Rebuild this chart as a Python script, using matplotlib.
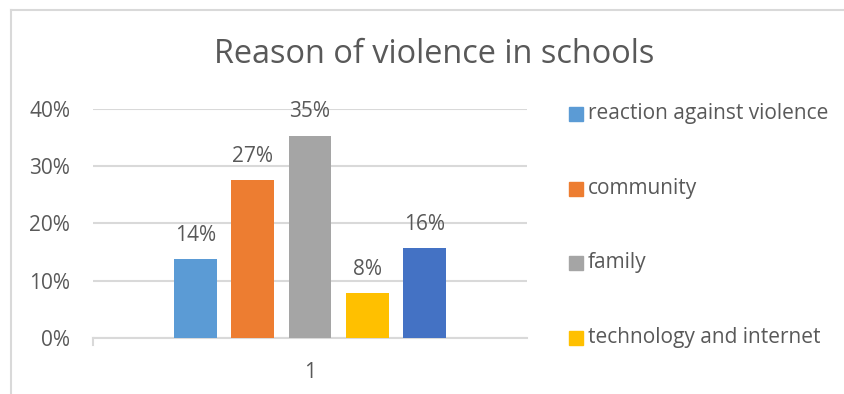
import matplotlib
matplotlib.use("Agg")
import matplotlib.pyplot as plt
from matplotlib.lines import Line2D

plt.rcParams['font.family'] = ['Open Sans', 'DejaVu Sans']

title = "Reason of violence in schools"
categories = ["1"]
series = ["reaction against violence", "community", "family",
          "technology and internet", "other"]
values = [0.137, 0.275, 0.353, 0.079, 0.157]
labels = ["14%", "27%", "35%", "8%", "16%"]
colors = ["#5B9BD5", "#ED7D31", "#A5A5A5", "#FFC000", "#4472C4"]
yticks = [0, 0.1, 0.2, 0.3, 0.4]
ytick_labels = ["0%", "10%", "20%", "30%", "40%"]

W, H = 845, 394
fig = plt.figure(figsize=(W / 100, H / 100), dpi=100)
txt = "#595959"
fs = 15

# chart frame (top & left visible)
fig.add_artist(Line2D([11 / W, 11 / W], [0, 1 - 10 / H], transform=fig.transFigure,
                      color="#d9d9d9", lw=1.5))
fig.add_artist(Line2D([11 / W, 1], [1 - 10 / H, 1 - 10 / H], transform=fig.transFigure,
                      color="#d9d9d9", lw=1.5))

left, right = 93 / W, 527 / W
bottom, top = 1 - 338 / H, 1 - 108.7 / H
ax = fig.add_axes([left, bottom, right - left, top - bottom])

n = len(values)
step = 1.0
width = 0.75
offsets = [(i - (n - 1) / 2) * step for i in range(n)]
for off, v, c, lab in zip(offsets, values, colors, labels):
    ax.bar(off, v, width=width, color=c, zorder=3)
    ax.annotate(lab, (off, v), xytext=(0, 9.5), textcoords="offset points",
                ha="center", va="bottom", fontsize=fs, color=txt)

half = 7.57 / 2
ax.set_xlim(-half, half)
ax.set_ylim(0, 0.4)
ax.set_yticks(yticks)
ax.set_yticklabels(ytick_labels, fontsize=fs, color=txt)
ax.set_xticks([0])
ax.set_xticklabels(categories, fontsize=fs, color=txt)
ax.tick_params(axis="y", length=0, pad=16.5)
ax.tick_params(axis="x", length=0, pad=17)
ax.grid(axis="y", color="#d9d9d9", lw=1.5, zorder=0)
for s in ["top", "right", "left"]:
    ax.spines[s].set_visible(False)
ax.spines["bottom"].set_color("#d9d9d9")
ax.spines["bottom"].set_linewidth(1.5)
ax.add_line(Line2D([-half, -half], [0, -0.012], color="#d9d9d9", lw=1.5,
                   clip_on=False))

fig.text(434.5 / W, 1 - 63 / H, title, ha="center", va="baseline",
         fontsize=23.4, color=txt)

# legend (only first four entries visible)
ys = [114.3, 188.6, 263.3, 337.6]
for name, c, y in zip(series[:4], colors[:4], ys):
    fig.patches.append(plt.Rectangle((569 / W, 1 - (y + 7) / H), 14 / W, 14 / H,
                                     transform=fig.transFigure, color=c))
    fig.text(588 / W, 1 - (y - 0.5) / H, name, ha="left", va="center",
             fontsize=fs, color=txt)

fig.savefig("out.png", dpi=100, facecolor="white")
